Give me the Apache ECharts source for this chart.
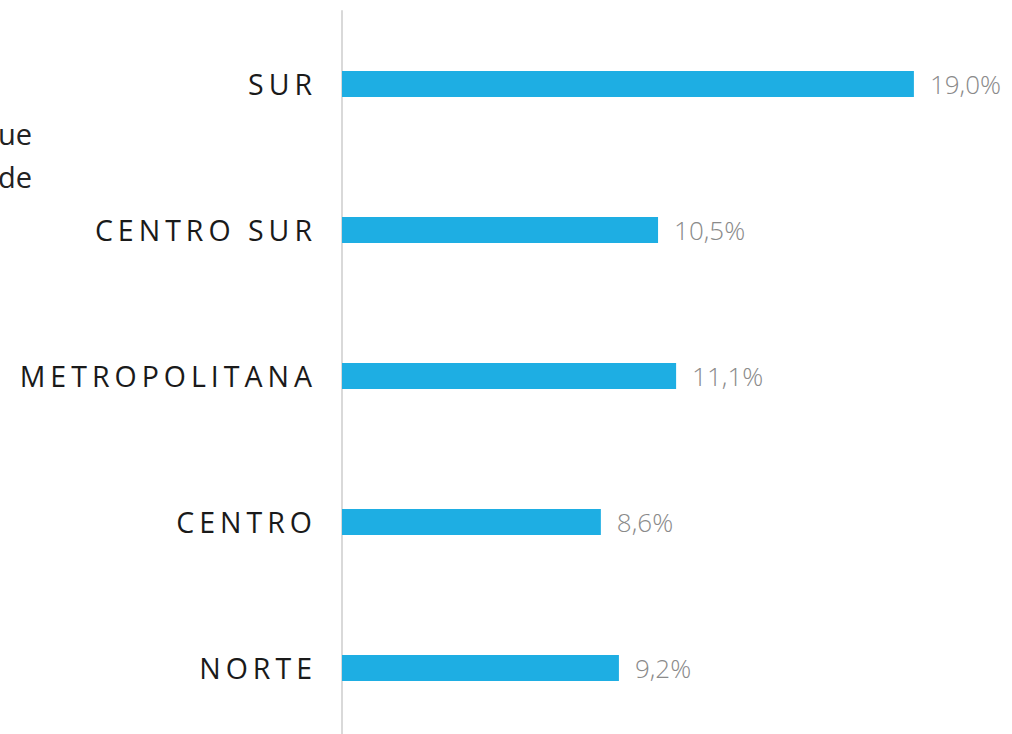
<!DOCTYPE html>
<html>
<head>
<meta charset="utf-8">
<script src="https://cdn.jsdelivr.net/npm/echarts@6/dist/echarts.min.js"></script>
<style>
  html, body { margin: 0; padding: 0; background: #fff; overflow: hidden; }
  #chart { width: 1012px; height: 734px; }
  /* letras espaciadas en las categorías */
  #chart text[fill="#1a1a1a"], #chart text[fill="rgb(26,26,26)"] { letter-spacing: 5px; }
</style>
</head>
<body>
<div id="chart"></div>
<script>
// datos (de abajo hacia arriba)
const regiones = ['NORTE', 'CENTRO', 'METROPOLITANA', 'CENTRO SUR', 'SUR']
const valores = [9.2, 8.6, 11.1, 10.5, 19.0]

const chart = echarts.init(document.getElementById('chart'), null, { renderer: 'svg' })

chart.setOption({
  animation: false,
  grid: { left: 342, right: 68, top: 11, height: 730, containLabel: false, outerBoundsMode: 'none' },
  xAxis: {
    type: 'value',
    min: 0,
    max: 20,
    show: false
  },
  yAxis: {
    type: 'category',
    data: regiones,
    axisLine: { show: true, lineStyle: { color: '#d9d9d9', width: 2 } },
    axisTick: { show: false },
    axisLabel: {
      margin: 25,
      color: '#1a1a1a',
      fontFamily: '"Open Sans", sans-serif',
      fontSize: 28.5
    }
  },
  series: [
    {
      type: 'bar',
      data: valores,
      barWidth: 26,
      itemStyle: { color: '#1eaee3' },
      label: {
        show: true,
        position: 'right',
        distance: 16,
        color: '#8a8a8a',
        fontFamily: '"Open Sans", sans-serif',
        fontWeight: 300,
        fontSize: 26,
        formatter: p => p.value.toFixed(1).replace('.', ',') + '%'
      }
    }
  ],
  graphic: [
    {
      type: 'text', right: 980, top: 119,
      style: { text: 'ue', fill: '#222', fontSize: 29, fontFamily: '"Open Sans", sans-serif' }
    },
    {
      type: 'text', right: 980, top: 162,
      style: { text: 'de', fill: '#222', fontSize: 29, fontFamily: '"Open Sans", sans-serif' }
    }
  ]
})
</script>
</body>
</html>
